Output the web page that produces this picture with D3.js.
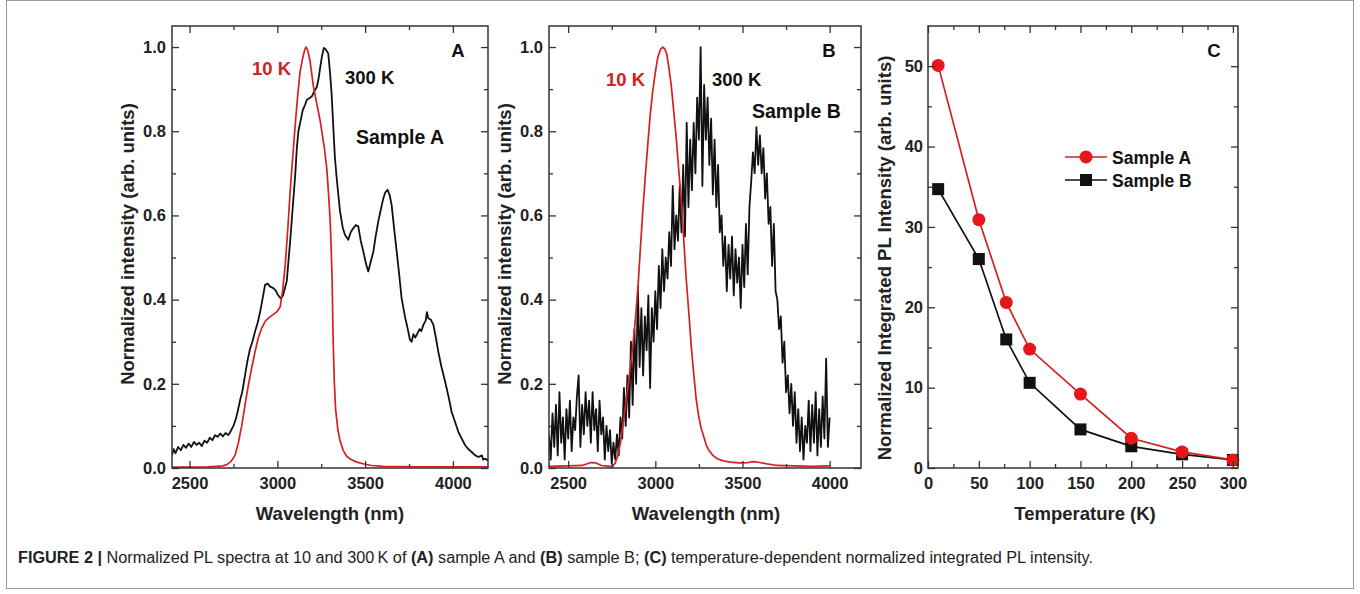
<!DOCTYPE html>
<html>
<head>
<meta charset="utf-8">
<script src="https://cdn.jsdelivr.net/npm/d3@7"></script>
<style>
  body { margin: 0; background: #fff; }
  svg { display: block; font-family: "Liberation Sans", Arial, sans-serif; }
</style>
</head>
<body>
<script>
// ---- datos ----

// Panel A: espectros normalizados [longitud de onda nm, intensidad]
const specA300 = [[2400,0.03],[2410,0.045],[2420,0.035],[2435,0.05],[2450,0.042],[2465,0.055],[2480,0.048],[2495,0.058],[2510,0.05],[2525,0.062],[2540,0.055],[2555,0.06],[2570,0.052],[2585,0.065],[2600,0.06],[2615,0.072],[2630,0.066],[2645,0.078],[2660,0.074],[2675,0.082],[2690,0.075],[2705,0.083],[2720,0.078],[2735,0.088],[2750,0.1],[2765,0.118],[2778,0.142],[2790,0.165],[2800,0.18],[2816,0.22],[2830,0.255],[2845,0.284],[2858,0.3],[2873,0.324],[2888,0.345],[2902,0.371],[2915,0.4],[2930,0.435],[2945,0.438],[2959,0.431],[2975,0.428],[2990,0.422],[3005,0.41],[3020,0.403],[3032,0.41],[3045,0.43],[3054,0.445],[3063,0.49],[3073,0.538],[3088,0.62],[3102,0.697],[3111,0.76],[3120,0.8],[3130,0.82],[3145,0.85],[3159,0.864],[3168,0.875],[3180,0.878],[3197,0.883],[3210,0.895],[3225,0.905],[3235,0.925],[3244,0.951],[3255,0.98],[3265,0.998],[3275,0.995],[3290,0.985],[3300,0.94],[3309,0.89],[3320,0.8],[3328,0.737],[3340,0.68],[3357,0.61],[3372,0.572],[3385,0.554],[3395,0.548],[3404,0.542],[3418,0.56],[3433,0.57],[3447,0.577],[3461,0.574],[3475,0.54],[3490,0.514],[3505,0.485],[3518,0.467],[3532,0.49],[3547,0.514],[3560,0.55],[3575,0.586],[3590,0.615],[3604,0.641],[3615,0.655],[3628,0.661],[3640,0.648],[3651,0.625],[3665,0.57],[3680,0.514],[3694,0.46],[3708,0.403],[3727,0.36],[3746,0.324],[3755,0.305],[3765,0.3],[3775,0.318],[3785,0.31],[3794,0.316],[3810,0.33],[3820,0.325],[3832,0.34],[3845,0.35],[3852,0.37],[3860,0.356],[3875,0.352],[3889,0.34],[3903,0.31],[3917,0.276],[3935,0.24],[3956,0.205],[3975,0.17],[3993,0.133],[4012,0.11],[4031,0.086],[4050,0.07],[4070,0.054],[4088,0.045],[4107,0.038],[4127,0.03],[4146,0.026],[4165,0.03],[4172,0.02],[4184,0.022],[4200,0.018]];

const specA10 = [[2400,0.002],[2500,0.002],[2600,0.003],[2650,0.004],[2690,0.005],[2712,0.008],[2735,0.015],[2759,0.03],[2778,0.06],[2797,0.10],[2816,0.15],[2835,0.197],[2855,0.24],[2873,0.276],[2892,0.31],[2911,0.332],[2930,0.348],[2949,0.356],[2968,0.362],[2987,0.368],[3000,0.372],[3016,0.383],[3030,0.42],[3045,0.483],[3060,0.57],[3073,0.657],[3088,0.74],[3102,0.816],[3116,0.885],[3130,0.943],[3145,0.975],[3157,0.995],[3164,1.0],[3175,0.99],[3187,0.965],[3206,0.905],[3225,0.865],[3244,0.825],[3268,0.76],[3282,0.71],[3292,0.65],[3301,0.587],[3307,0.52],[3312,0.45],[3318,0.3],[3325,0.2],[3332,0.14],[3345,0.09],[3357,0.065],[3375,0.042],[3395,0.028],[3420,0.02],[3452,0.014],[3500,0.009],[3537,0.006],[3600,0.004],[3800,0.003],[4200,0.003]];

// Panel B: 300 K con mucho ruido, muestreado cada 10 nm desde 2390
const specB300Start = 2390, specB300Step = 10;
const specB300 = [
  0.08,0.02,0.13,0.05,0.15,0.03,0.18,0.06,0.12,0.02,
  0.14,0.07,0.16,0.04,0.12,0.09,0.17,0.22,0.05,0.15,
  0.08,0.18,0.10,0.16,0.06,0.18,0.09,0.14,0.04,0.16,
  0.08,0.12,0.02,0.10,0.04,0.09,0.01,0.06,0.02,0.08,
  0.03,0.12,0.07,0.19,0.10,0.22,0.12,0.30,0.15,0.33,
  0.20,0.43,0.24,0.38,0.22,0.36,0.28,0.41,0.19,0.38,
  0.30,0.42,0.33,0.48,0.38,0.52,0.42,0.50,0.45,0.56,
  0.48,0.67,0.52,0.60,0.54,0.67,0.56,0.72,0.55,0.82,
  0.62,0.78,0.66,0.82,0.70,0.88,0.78,1.00,0.67,0.91,
  0.78,0.88,0.72,0.83,0.65,0.78,0.62,0.72,0.56,0.60,
  0.48,0.55,0.42,0.53,0.45,0.55,0.41,0.52,0.44,0.50,
  0.38,0.53,0.43,0.58,0.46,0.62,0.68,0.75,0.70,0.81,
  0.72,0.79,0.70,0.76,0.64,0.70,0.58,0.62,0.48,0.58,
  0.42,0.40,0.33,0.36,0.25,0.30,0.18,0.22,0.13,0.20,
  0.10,0.18,0.06,0.14,0.04,0.12,0.02,0.10,0.06,0.16,
  0.04,0.15,0.06,0.18,0.03,0.14,0.05,0.17,0.07,0.26,
  0.05,0.12
];

const specB10 = [[2390,0.004],[2500,0.005],[2580,0.006],[2610,0.01],[2630,0.013],[2660,0.012],[2690,0.006],[2740,0.004],[2756,0.004],[2770,0.012],[2785,0.03],[2800,0.06],[2813,0.10],[2828,0.145],[2842,0.19],[2857,0.24],[2871,0.29],[2885,0.35],[2899,0.42],[2914,0.52],[2928,0.61],[2942,0.69],[2957,0.77],[2971,0.84],[2985,0.895],[3000,0.94],[3014,0.975],[3030,0.995],[3043,1.0],[3055,0.995],[3066,0.983],[3078,0.95],[3091,0.91],[3105,0.85],[3120,0.784],[3134,0.71],[3148,0.641],[3162,0.55],[3177,0.45],[3192,0.37],[3206,0.29],[3220,0.225],[3234,0.165],[3248,0.125],[3263,0.094],[3278,0.074],[3292,0.055],[3307,0.042],[3330,0.03],[3355,0.022],[3390,0.017],[3431,0.014],[3480,0.012],[3530,0.013],[3565,0.015],[3600,0.013],[3650,0.009],[3699,0.006],[3800,0.005],[3900,0.004],[4000,0.005]];

// Panel C: intensidad integrada vs temperatura
const temps = [10, 50, 77, 100, 150, 200, 250, 300];
const sampleA = [50.1, 30.9, 20.6, 14.8, 9.2, 3.7, 2.0, 1.0];
const sampleB = [34.7, 26.0, 16.0, 10.6, 4.8, 2.7, 1.7, 1.0];

// ticks
const wlMajor = [2500, 3000, 3500, 4000];
const wlMinor = [2750, 3250, 3750];
const yMajorSpec = [0, 0.2, 0.4, 0.6, 0.8, 1.0];
const yMinorSpec = [0.1, 0.3, 0.5, 0.7, 0.9];
const tMajor = [0, 50, 100, 150, 200, 250, 300];
const tMinor = [25, 75, 125, 175, 225, 275];
const iMajor = [0, 10, 20, 30, 40, 50];
const iMinor = [5, 15, 25, 35, 45];

// ---- svg ----
const w = 1360, h = 594;
const rojo = '#d42020';
const negro = '#111';

var svg = d3.select('body')
    .append('svg')
    .attr('width', w)
    .attr('height', h);

svg.append('rect').attr('width', w).attr('height', h).attr('fill', '#fff');

// marco exterior de la figura
svg.append('rect')
    .attr('x', 6.5).attr('y', 0.5)
    .attr('width', 1347).attr('height', 588)
    .attr('fill', 'none')
    .attr('stroke', '#9a9a9a')
    .attr('stroke-width', 1);

// dibuja marco y ticks hacia dentro en los cuatro lados
function marco(g, x, y, xMaj, xMin, yMaj, yMin, fx, fy, padY) {
    const [x0, x1] = x.range();
    const [y0, y1] = y.range();

    const ejes = [
        [d3.axisBottom(x).tickValues(xMaj).tickSize(-7).tickPadding(9).tickFormat(fx), 0, y0],
        [d3.axisBottom(x).tickValues(xMin).tickSize(-4).tickFormat(''), 0, y0],
        [d3.axisTop(x).tickValues(xMaj).tickSize(-7).tickFormat(''), 0, y1],
        [d3.axisTop(x).tickValues(xMin).tickSize(-4).tickFormat(''), 0, y1],
        [d3.axisLeft(y).tickValues(yMaj).tickSize(-7).tickPadding(padY).tickFormat(fy), x0, 0],
        [d3.axisLeft(y).tickValues(yMin).tickSize(-4).tickFormat(''), x0, 0],
        [d3.axisRight(y).tickValues(yMaj).tickSize(-7).tickFormat(''), x1, 0],
        [d3.axisRight(y).tickValues(yMin).tickSize(-4).tickFormat(''), x1, 0]
    ];

    ejes.forEach(([eje, tx, ty]) => {
        const a = g.append('g')
            .attr('transform', `translate(${tx},${ty})`)
            .call(eje.tickSizeOuter(0));
        a.select('.domain').remove();
        a.selectAll('line').attr('stroke', '#333').attr('stroke-width', 1.3);
        a.selectAll('text')
            .attr('font-size', 16.5)
            .attr('font-weight', 'bold')
            .attr('fill', '#222')
            .attr('font-family', '"Liberation Sans", Arial, sans-serif');
    });

    g.append('rect')
        .attr('x', x0).attr('y', y1)
        .attr('width', x1 - x0).attr('height', y0 - y1)
        .attr('fill', 'none')
        .attr('stroke', '#333')
        .attr('stroke-width', 1.5);
}

function texto(g, x, y, t, opts) {
    const o = Object.assign({ size: 18.5, color: '#111', anchor: 'start' }, opts);
    return g.append('text')
        .attr('x', x).attr('y', y)
        .attr('font-size', o.size)
        .attr('font-weight', 'bold')
        .attr('fill', o.color)
        .attr('text-anchor', o.anchor)
        .text(t);
}

function tituloY(g, cx, cy, t, size) {
    g.append('text')
        .attr('transform', `translate(${cx},${cy}) rotate(-90)`)
        .attr('dy', '0.35em')
        .attr('text-anchor', 'middle')
        .attr('font-size', size)
        .attr('font-weight', 'bold')
        .attr('fill', '#222')
        .text(t);
}

const f1 = d3.format('.1f');

// ---- panel de espectro ----
function panelEspectro(id, left, right, dom, negroData, rojoData) {
    const g = svg.append('g').attr('id', id);
    const x = d3.scaleLinear().domain(dom).range([left, right]);
    const y = d3.scaleLinear().domain([0, 1.05]).range([468, 26]);

    g.append('clipPath').attr('id', 'clip' + id)
        .append('rect')
        .attr('x', left).attr('y', 26)
        .attr('width', right - left).attr('height', 442);

    const linea = d3.line().x(d => x(d[0])).y(d => y(d[1]));

    g.append('path')
        .datum(negroData)
        .attr('clip-path', `url(#clip${id})`)
        .attr('d', linea)
        .attr('fill', 'none')
        .attr('stroke', negro)
        .attr('stroke-width', 1.8)
        .attr('stroke-linejoin', 'round');

    g.append('path')
        .datum(rojoData)
        .attr('clip-path', `url(#clip${id})`)
        .attr('d', linea)
        .attr('fill', 'none')
        .attr('stroke', rojo)
        .attr('stroke-width', 1.7)
        .attr('stroke-linejoin', 'round');

    marco(g, x, y, wlMajor, wlMinor, yMajorSpec, yMinorSpec, d3.format('d'), f1, 6);
    return { g, x, y };
}

// Panel A
const pA = panelEspectro('A', 172, 488, [2400, 4200], specA300, specA10);
texto(pA.g, 252, 75, '10 K', { color: rojo });
texto(pA.g, 345, 84, '300 K');
texto(pA.g, 356, 144, 'Sample A', { size: 19.5 });
texto(pA.g, 458, 57, 'A', { anchor: 'middle' });
texto(pA.g, 330, 520, 'Wavelength (nm)', { size: 18.5, anchor: 'middle', color: '#222' });
tituloY(pA.g, 128, 244, 'Normalized intensity (arb. units)', 18.5);

// Panel B
const b300 = specB300.map((v, i) => [specB300Start + i * specB300Step, v]);
const pB = panelEspectro('B', 549, 861, [2390, 4180], b300, specB10);
texto(pB.g, 606, 86, '10 K', { color: rojo });
texto(pB.g, 712, 86, '300 K');
texto(pB.g, 752, 118, 'Sample B', { size: 19.5 });
texto(pB.g, 829, 57, 'B', { anchor: 'middle' });
texto(pB.g, 706, 520, 'Wavelength (nm)', { size: 18.5, anchor: 'middle', color: '#222' });
tituloY(pB.g, 505, 244, 'Normalized intensity (arb. units)', 18.5);

// ---- Panel C ----
const gC = svg.append('g').attr('id', 'C');
const xC = d3.scaleLinear().domain([0, 305]).range([928, 1238]);
const yC = d3.scaleLinear().domain([0, 55]).range([468, 26]);

const lineaC = d3.line().x(d => xC(d[0])).y(d => yC(d[1]));
const serieB = temps.map((t, i) => [t, sampleB[i]]);
const serieA = temps.map((t, i) => [t, sampleA[i]]);

gC.append('path').datum(serieB).attr('d', lineaC)
    .attr('fill', 'none').attr('stroke', negro).attr('stroke-width', 1.7);
gC.selectAll('rect.mB').data(serieB).enter().append('rect')
    .attr('class', 'mB')
    .attr('x', d => xC(d[0]) - 6).attr('y', d => yC(d[1]) - 6)
    .attr('width', 12).attr('height', 12)
    .attr('fill', negro);

gC.append('path').datum(serieA).attr('d', lineaC)
    .attr('fill', 'none').attr('stroke', rojo).attr('stroke-width', 1.7);
gC.selectAll('circle.mA').data(serieA).enter().append('circle')
    .attr('class', 'mA')
    .attr('cx', d => xC(d[0])).attr('cy', d => yC(d[1]))
    .attr('r', 6.5)
    .attr('fill', '#e8151b');

marco(gC, xC, yC, tMajor, tMinor, iMajor, iMinor, d3.format('d'), d3.format('d'), 5);

// leyenda
const leyenda = [
    { nombre: 'Sample A', color: rojo, marca: 'circle', y: 157 },
    { nombre: 'Sample B', color: negro, marca: 'rect', y: 180 }
];
leyenda.forEach(l => {
    gC.append('line')
        .attr('x1', 1065).attr('x2', 1107)
        .attr('y1', l.y).attr('y2', l.y)
        .attr('stroke', l.color).attr('stroke-width', 1.7);
    if (l.marca === 'circle') {
        gC.append('circle').attr('cx', 1086).attr('cy', l.y).attr('r', 6.5).attr('fill', '#e8151b');
    } else {
        gC.append('rect').attr('x', 1080).attr('y', l.y - 6).attr('width', 12).attr('height', 12).attr('fill', negro);
    }
    texto(gC, 1112, l.y + 6.5, l.nombre, { size: 17.5 });
});

texto(gC, 1214, 57, 'C', { anchor: 'middle' });
texto(gC, 1085, 520, 'Temperature (K)', { size: 18.5, anchor: 'middle', color: '#222' });
tituloY(gC, 885, 258, 'Normalized Integrated PL Intensity (arb. units)', 18.5);

// ---- pie de figura ----
const pie = svg.append('text')
    .attr('x', 18).attr('y', 563)
    .attr('font-size', 16)
    .attr('fill', '#222')
    .attr('textLength', 1075)
    .attr('lengthAdjust', 'spacingAndGlyphs');

const partes = [
    ['FIGURE 2 | ', true], ['Normalized PL spectra at 10 and 300\u2009K of ', false],
    ['(A)', true], [' sample A and ', false], ['(B)', true], [' sample B; ', false],
    ['(C)', true], [' temperature-dependent normalized integrated PL intensity.', false]
];
partes.forEach(([t, b]) => {
    pie.append('tspan').attr('font-weight', b ? 'bold' : 'normal').text(t);
});
</script>
</body>
</html>
